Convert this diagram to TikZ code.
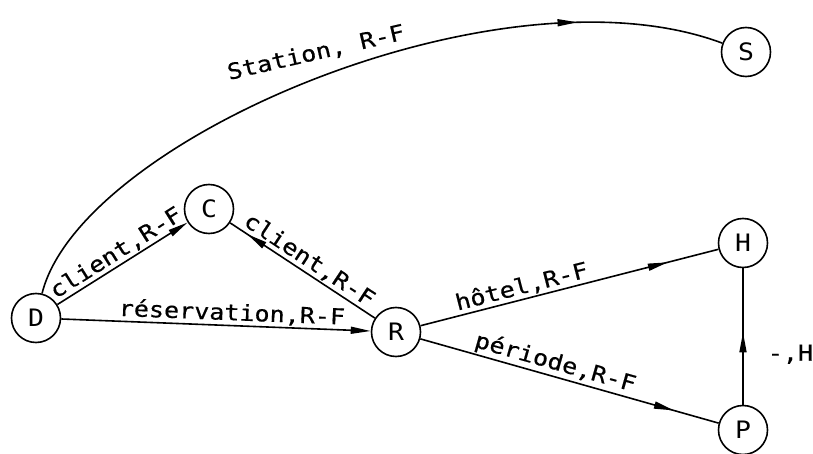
\documentclass[tikz,border=0pt]{standalone}
\usepackage{fontspec}
\newfontfamily\lblfont[FakeStretch=1.14,FakeBold=0.5]{DejaVu Sans Mono}
\newfontfamily\statefont[FakeStretch=1.1]{DejaVu Sans Mono}
\usetikzlibrary{arrows.meta,decorations.markings}
\tikzset{
  state/.style={circle,draw,line width=1.6pt,minimum size=49pt,inner sep=0pt,font=\statefont\fontsize{24}{24}\selectfont},
  conn/.style={line width=1.6pt},
  tipA/.style={-{Triangle[length=20pt,width=7pt]}},
  midarrow/.style={postaction={decorate},decoration={markings,mark=at position #1 with {\arrow{Triangle[length=20pt,width=7pt]}}}},
  lblfont/.style={font=\lblfont\fontsize{22}{22}\selectfont},
  lbl/.style={lblfont, sloped, above, inner sep=1.5pt}
}
\begin{document}
\begin{tikzpicture}[x=1pt,y=1pt]
\useasboundingbox (0,0) rectangle (813,453);
\node[state] (D) at (36,135) {D};
\node[state] (C) at (209,244) {C};
\node[state] (R) at (396,121) {R};
\node[state] (H) at (743,210) {H};
\node[state] (P) at (743,23) {P};
\node[state] (S) at (746,401) {S};
\draw[conn, midarrow=0.81] (D) .. controls (80,313) and (500,493) .. (S);
\node[lblfont, rotate=13, inner sep=0pt] (stlbl) at (316,400) {Station, R-F};
\draw[conn,tipA] (D) -- node[lbl] {client,R-F} (C);
\draw[conn,midarrow=0.88] (R) -- node[lbl] {client,R-F} (C);
\draw[conn,tipA] (D) -- node[lbl,pos=0.55] {réservation,R-F} (R);
\draw[conn,midarrow=0.83] (R) -- node[lbl,pos=0.35] {hôtel,R-F} (H);
\draw[conn,midarrow=0.85] (R) -- node[lbl,pos=0.44] {période,R-F} (P);
\draw[conn,midarrow=0.53] (P) -- node[pos=0.37,anchor=west,xshift=24pt,inner sep=0pt,lblfont] {-,H} (H);
\end{tikzpicture}
\end{document}
